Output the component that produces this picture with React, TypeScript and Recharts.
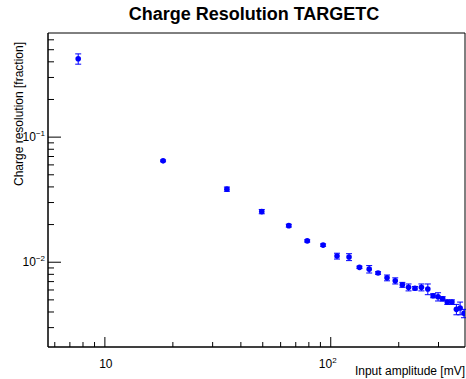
import React from 'react';
import { ScatterChart, Scatter, XAxis, YAxis, ErrorBar, ReferenceArea } from 'recharts';

// input amplitude [mV]
const amplitude = [7.62, 18.1, 34.7, 49.5, 65.2, 78.7, 92.5, 106.6, 120.5, 134, 148, 162, 177.5, 193, 207.5, 221, 236, 252, 269, 284, 298.6, 313, 328, 344, 360, 374, 389];
// charge resolution [fraction]
const resolution = [0.423, 0.0646, 0.0384, 0.0254, 0.0196, 0.0148, 0.0137, 0.0112, 0.011, 0.0091, 0.0088, 0.0082, 0.0075, 0.0071, 0.0066, 0.0063, 0.0062, 0.0063, 0.0061, 0.0054, 0.0053, 0.0051, 0.0048, 0.0048, 0.0042, 0.0043, 0.0039];
const resolutionErr = [0.04, 0.001, 0.0015, 0.001, 0.0005, 0.0003, 0.0003, 0.0006, 0.0007, 0.0002, 0.0006, 0.0002, 0.0004, 0.0004, 0.0003, 0.0004, 0.0002, 0.0004, 0.0006, 0.0002, 0.0004, 0.0002, 0.0002, 0.0002, 0.0004, 0.0005, 0.0003];

const xTicks = [6, 7, 8, 9, 10, 20, 30, 40, 50, 60, 70, 80, 90, 100, 200, 300];
const yTicks = [0.003, 0.004, 0.005, 0.006, 0.007, 0.008, 0.009, 0.01, 0.02, 0.03, 0.04, 0.05, 0.06, 0.07, 0.08, 0.09, 0.1, 0.2, 0.3, 0.4, 0.5, 0.6];

const X_DOMAIN = [5.6, 393];
const Y_DOMAIN = [0.0021, 0.68];
const FONT = '"Liberation Sans", Arial, Helvetica, sans-serif';
const BLUE = '#0000ff';

const data = amplitude.map((x, i) => ({ x, y: resolution[i], err: resolutionErr[i] }));

const XTick = (props: any) => {
  const { x, y, payload } = props;
  const v = payload.value;
  const major = v === 10 || v === 100;
  return (
    <g>
      <line x1={x} x2={x} y1={y} y2={y - (major ? 10 : 5)} stroke="#000" strokeWidth={1} />
      {v === 10 && (
        <text x={x + 1} y={y + 21} textAnchor="middle" fontSize={12} fontFamily={FONT} fill="#000">10</text>
      )}
      {v === 100 && (
        <text x={x - 3} y={y + 21} textAnchor="middle" fontSize={12} fontFamily={FONT} fill="#000">
          10<tspan dy={-5} fontSize={8}>2</tspan>
        </text>
      )}
    </g>
  );
};

const YTick = (props: any) => {
  const { x, y, payload } = props;
  const v = payload.value;
  const major = v === 0.1 || v === 0.01;
  const exp = v === 0.1 ? '\u22121' : '\u22122';
  return (
    <g>
      <line x1={x} x2={x + (major ? 13 : 6)} y1={y} y2={y} stroke="#000" strokeWidth={1} />
      {major && (
        <text x={x - 3} y={y + 4} textAnchor="end" fontSize={12} fontFamily={FONT} fill="#000">
          10<tspan dy={-5} fontSize={8}>{exp}</tspan>
        </text>
      )}
    </g>
  );
};

const Dot = (props: any) => {
  const { cx, cy } = props;
  return <circle cx={cx} cy={cy} r={2.8} fill={BLUE} />;
};

export default function App() {
  return (
    <div style={{ position: 'absolute', left: 0, top: 0, width: 466, height: 379, background: '#fff' }}>
      <ScatterChart width={466} height={379} margin={{ top: 33, right: 1, bottom: 0, left: 0 }}>
        <XAxis
          dataKey="x"
          type="number"
          scale="log"
          domain={X_DOMAIN}
          allowDataOverflow
          ticks={xTicks}
          interval={0}
          height={32}
          tickSize={0}
          tickMargin={0}
          tickLine={false}
          axisLine={{ stroke: '#000' }}
          tick={<XTick />}
        />
        <YAxis
          dataKey="y"
          type="number"
          scale="log"
          domain={Y_DOMAIN}
          allowDataOverflow
          ticks={yTicks}
          interval={0}
          width={48}
          tickSize={0}
          tickMargin={0}
          tickLine={false}
          axisLine={{ stroke: '#000' }}
          tick={<YTick />}
        />
        <ReferenceArea x1={X_DOMAIN[0]} x2={X_DOMAIN[1]} y1={Y_DOMAIN[0]} y2={Y_DOMAIN[1]} fill="none" stroke="#000" strokeWidth={1} />
        <Scatter data={data} shape={<Dot />} isAnimationActive={false}>
          <ErrorBar dataKey="err" direction="y" width={3} stroke={BLUE} strokeWidth={1} />
        </Scatter>
      </ScatterChart>
      <svg width={466} height={379} style={{ position: 'absolute', left: 0, top: 0, pointerEvents: 'none' }}>
        <text x={254} y={20} textAnchor="middle" fontSize={18} fontWeight="bold" fontFamily={FONT} fill="#000">
          Charge Resolution TARGETC
        </text>
        <text x={23} y={114} textAnchor="middle" fontSize={12} fontFamily={FONT} fill="#000" transform="rotate(-90 23 114)">
          Charge resolution [fraction]
        </text>
        <text x={465} y={375} textAnchor="end" fontSize={12} fontFamily={FONT} fill="#000">
          Input amplitude [mV]
        </text>
      </svg>
    </div>
  );
}
